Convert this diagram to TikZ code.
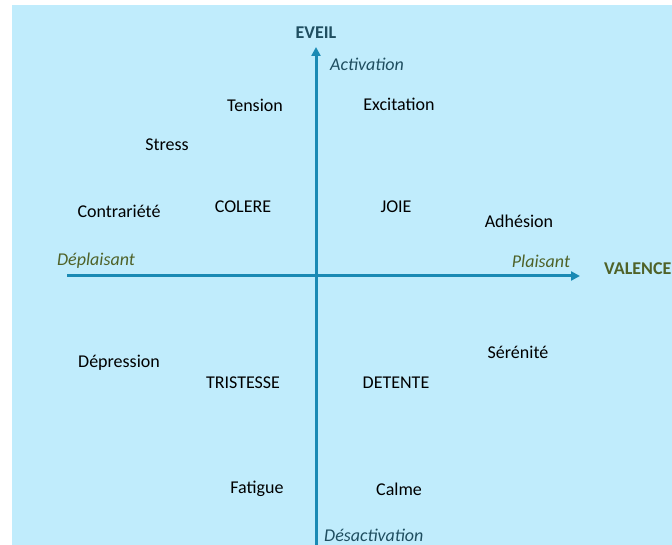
\documentclass[tikz,border=0pt]{standalone}
\usepackage{fontspec}
\setmainfont{Carlito}
\usetikzlibrary{arrows.meta}
\definecolor{bgblue}{HTML}{C0ECFC}
\definecolor{axisblue}{HTML}{1A8AB4}
\definecolor{tealtxt}{HTML}{1F4E60}
\definecolor{olivetxt}{HTML}{4F6228}
\tikzset{
  word/.style={font=\fontsize{18}{21}\selectfont, text=black, inner sep=0pt},
  axislbl/.style={font=\fontsize{18}{21}\selectfont\itshape, inner sep=0pt},
  axisname/.style={font=\fontsize{18}{21}\selectfont\bfseries, inner sep=0pt},
  axisline/.style={draw=axisblue, line width=3pt, -{Triangle[length=9pt,width=9pt]}}
}
\begin{document}
\begin{tikzpicture}[x=1pt,y=-1pt]
\useasboundingbox (0,0) rectangle (672,545);
\fill[white] (0,0) rectangle (672,545);
\fill[bgblue] (12,5) rectangle (672,545);
\begin{scope}
\clip (12,5) rectangle (672,545);
\coordinate (vbot) at (316,550);
\coordinate (vtop) at (316,47);
\coordinate (hl) at (67,276);
\coordinate (hr) at (580,276);
\draw[axisline] (vbot) -- (vtop);
\draw[axisline] (hl) -- (hr);
\node[axisname, text=tealtxt] (eveil) at (316,33) {EVEIL};
\node[axislbl, text=tealtxt, anchor=west] (act) at (330,64) {Activation};
\node[axislbl, text=tealtxt, anchor=west] (desact) at (324,535) {Désactivation};
\node[axislbl, text=olivetxt] (plais) at (541,261) {Plaisant};
\node[axislbl, text=olivetxt] (deplais) at (96,261) {Déplaisant};
\node[axisname, text=olivetxt, anchor=west] (valence) at (604,269) {VALENCE};
\node[word] (tension) at (255,105) {Tension};
\node[word] (excit) at (399,104) {Excitation};
\node[word] (stress) at (167,145) {Stress};
\node[word] (contr) at (119,211) {Contrariété};
\node[word] (colere) at (243,207) {COLERE};
\node[word] (joie) at (396,207) {JOIE};
\node[word] (adhes) at (519,221) {Adhésion};
\node[word] (depr) at (119,363) {Dépression};
\node[word] (trist) at (243,383) {TRISTESSE};
\node[word] (detente) at (396,383) {DETENTE};
\node[word] (seren) at (518,352) {Sérénité};
\node[word] (fatig) at (257,489) {Fatigue};
\node[word] (calme) at (399,489) {Calme};
\end{scope}
\end{tikzpicture}
\end{document}
